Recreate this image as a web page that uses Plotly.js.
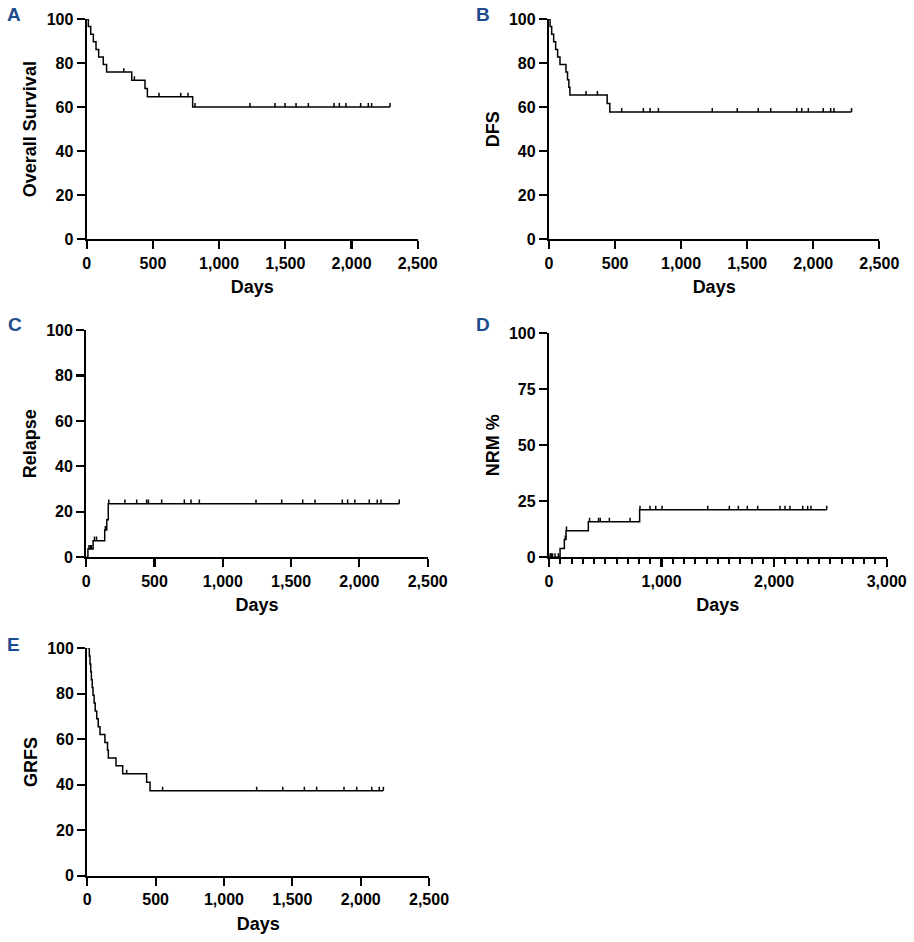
<!DOCTYPE html>
<html>
<head>
<meta charset="utf-8">
<script src="https://cdn.plot.ly/plotly-3.0.1.min.js"></script>
<style>html,body{margin:0;padding:0;background:#fff;}#chart{width:914px;height:942px;}</style>
</head>
<body>
<div id="chart"></div>
<script>
// ---- Panel A: Overall Survival ----
var osTimes = [0, 12, 30, 50, 70, 90, 125, 150, 340, 440, 458, 800];
var osVals  = [100, 96.6, 93.1, 89.7, 86.2, 82.8, 79.3, 75.9, 72.2, 68.5, 64.7, 60.1];
var osEnd = 2291;
var osCens = [280, 360, 546, 710, 765, 818, 1233, 1422, 1498, 1581, 1674, 1868, 1908, 1958, 2069, 2127, 2152, 2291];

// ---- Panel B: DFS ----
var dfsTimes = [0, 8, 20, 35, 50, 65, 83, 128, 140, 150, 158, 440, 460];
var dfsVals  = [100, 96.6, 93.1, 89.7, 86.2, 82.8, 79.3, 75.9, 72.4, 69.0, 65.5, 61.7, 57.8];
var dfsEnd = 2290;
var dfsCens = [280, 366, 550, 714, 765, 828, 1236, 1425, 1584, 1678, 1875, 1913, 1963, 2076, 2132, 2157, 2290];

// ---- Panel C: Relapse ----
var relTimes = [0, 12, 50, 135, 150, 161];
var relVals  = [0, 3.6, 7.3, 12.0, 16.5, 23.6];
var relEnd = 2292;
var relCens = [20, 30, 38, 60, 75, 140, 165, 283, 369, 442, 455, 552, 718, 767, 828, 1243, 1431, 1585, 1675, 1875, 1914, 1967, 2072, 2131, 2158, 2292];

// ---- Panel D: NRM % ----
var nrmTimes = [0, 98, 136, 151, 349, 805];
var nrmVals  = [0, 3.9, 7.9, 11.9, 15.9, 21.2];
var nrmEnd = 2467;
var nrmCens = [10, 20, 30, 53, 83, 145, 155, 360, 440, 455, 536, 720, 808, 897, 948, 1004, 1410, 1602, 1682, 1762, 1854, 2052, 2097, 2141, 2254, 2298, 2327, 2467];

// ---- Panel E: GRFS ----
var grfsTimes = [0, 15, 20, 25, 30, 36, 42, 50, 58, 69, 80, 93, 129, 148, 154, 210, 259, 434, 459];
var grfsVals  = [100, 96.6, 93.1, 89.7, 86.2, 82.8, 79.3, 75.9, 72.4, 69.0, 65.5, 62.1, 58.6, 55.2, 51.7, 48.3, 44.8, 41.1, 37.3];
var grfsEnd = 2165;
var grfsCens = [288, 551, 1239, 1430, 1588, 1678, 1878, 1971, 2081, 2136, 2166];

var yTitles = ['Overall Survival', 'DFS', 'Relapse', 'NRM %', 'GRFS'];
var panelLetters = ['A', 'B', 'C', 'D', 'E'];

function stepAt(times, vals, t) {
  var v = vals[0];
  for (var i = 0; i < times.length; i++) { if (times[i] <= t) v = vals[i]; }
  return v;
}

var panels = [
  {t: osTimes, v: osVals, end: osEnd, c: osCens},
  {t: dfsTimes, v: dfsVals, end: dfsEnd, c: dfsCens},
  {t: relTimes, v: relVals, end: relEnd, c: relCens},
  {t: nrmTimes, v: nrmVals, end: nrmEnd, c: nrmCens},
  {t: grfsTimes, v: grfsVals, end: grfsEnd, c: grfsCens}
];

var data = [];
panels.forEach(function(p, i) {
  var xa = i === 0 ? 'x' : 'x' + (i + 1);
  var ya = i === 0 ? 'y' : 'y' + (i + 1);
  data.push({
    x: p.t.concat([p.end]),
    y: p.v.concat([p.v[p.v.length - 1]]),
    xaxis: xa, yaxis: ya,
    mode: 'lines', line: {shape: 'hv', color: '#000', width: 1.5},
    hoverinfo: 'skip', showlegend: false
  });
  data.push({
    x: p.c,
    y: p.c.map(function(t) { return stepAt(p.t, p.v, t); }),
    xaxis: xa, yaxis: ya,
    mode: 'markers', marker: {size: 1, color: 'rgba(0,0,0,0)'},
    error_y: {type: 'constant', value: 1.8, symmetric: false, valueminus: 0, width: 0, thickness: 1.5, color: '#000'},
    hoverinfo: 'skip', showlegend: false, cliponaxis: false
  });
});

var tickFont = {family: 'Liberation Sans, Arial, sans-serif', size: 16, color: '#000', weight: 'bold'};
var titleFont = {family: 'Liberation Sans, Arial, sans-serif', size: 18, color: '#000', weight: 'bold'};

function xaxis(domain, anchor, range, dtick, minor) {
  var a = {
    domain: domain, anchor: anchor, range: range, dtick: dtick, tick0: 0,
    showline: true, linecolor: '#000', linewidth: 2.2, ticks: 'outside', ticklen: 8, tickwidth: 2.2, tickcolor: '#000',
    showgrid: false, zeroline: false, tickfont: tickFont, separatethousands: true,
    title: {text: 'Days', font: titleFont, standoff: 10}, fixedrange: true
  };
  if (minor) a.minor = {ticks: 'outside', dtick: 100, ticklen: 5, tickwidth: 2, tickcolor: '#000', showgrid: false};
  return a;
}
function yaxis(domain, anchor, dtick, title) {
  return {
    domain: domain, anchor: anchor, range: [0, 100], dtick: dtick, tick0: 0,
    showline: true, linecolor: '#000', linewidth: 2.2, ticks: 'outside', ticklen: 8, tickwidth: 2.2, tickcolor: '#000',
    showgrid: false, zeroline: false, tickfont: tickFont,
    title: {text: title, font: titleFont, standoff: 5}, fixedrange: true
  };
}

var layout = {
  width: 914, height: 942,
  margin: {l: 0, r: 0, t: 0, b: 0},
  paper_bgcolor: '#fff', plot_bgcolor: '#fff',
  showlegend: false,
  separators: '.,',
  xaxis:  xaxis([0.0949, 0.4570], 'y',  [0, 2500], 500, false),
  yaxis:  yaxis([0.7460, 0.9798], 'x',  20, yTitles[0]),
  xaxis2: xaxis([0.6007, 0.9620], 'y2', [0, 2500], 500, false),
  yaxis2: yaxis([0.7460, 0.9798], 'x2', 20, yTitles[1]),
  xaxis3: xaxis([0.0944, 0.4679], 'y3', [0, 2500], 500, false),
  yaxis3: yaxis([0.4084, 0.6497], 'x3', 20, yTitles[2]),
  xaxis4: xaxis([0.6007, 0.9701], 'y4', [0, 3000], 1000, true),
  yaxis4: yaxis([0.4084, 0.6462], 'x4', 25, yTitles[3]),
  xaxis5: xaxis([0.0955, 0.4694], 'y5', [0, 2500], 500, false),
  yaxis5: yaxis([0.0704, 0.3118], 'x5', 20, yTitles[4]),
  annotations: [
    [0.0153, 0.9851], [0.5284, 0.9851], [0.0164, 0.6550], [0.5284, 0.6550], [0.0153, 0.3163]
  ].map(function(pos, i) {
    return {text: panelLetters[i], xref: 'paper', yref: 'paper', x: pos[0], y: pos[1],
      xanchor: 'center', yanchor: 'middle', showarrow: false,
      font: {family: 'Liberation Sans, Arial, sans-serif', size: 19, color: '#1b4c8c', weight: 'bold'}};
  })
};

Plotly.newPlot('chart', data, layout, {staticPlot: true, displayModeBar: false});
</script>
</body>
</html>
